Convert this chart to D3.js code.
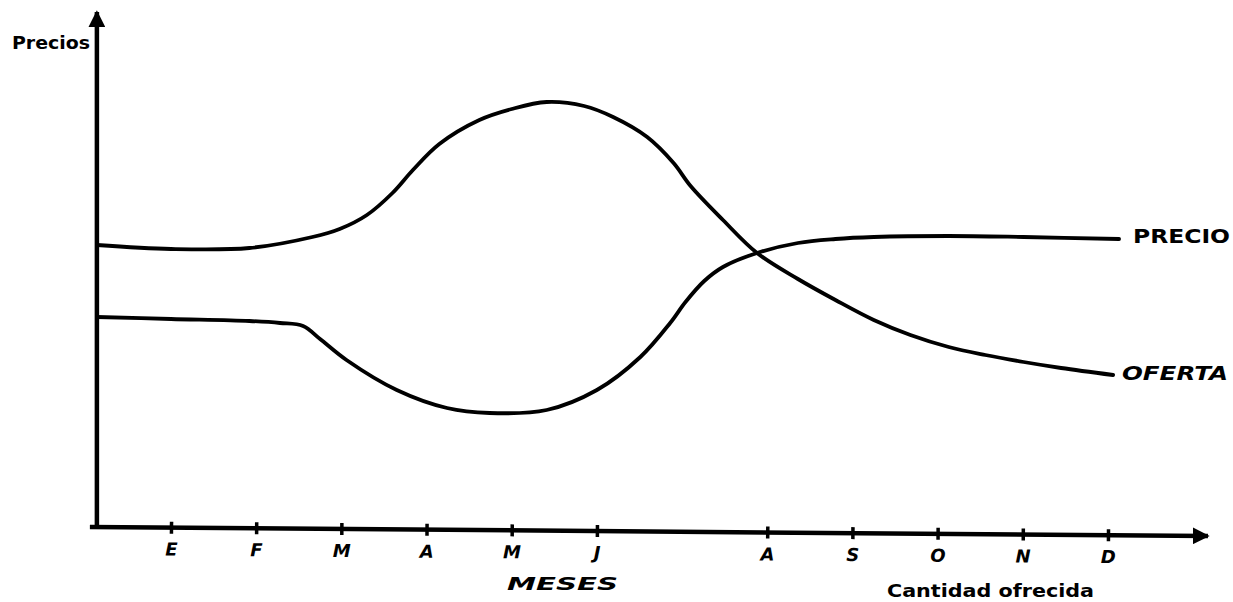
<!DOCTYPE html>
<html>
<head>
<meta charset="utf-8">
<script src="https://cdn.jsdelivr.net/npm/d3@7"></script>
<style>
  html, body { margin: 0; padding: 0; background: #fff; }
  svg { display: block; }
  .lbl { font-family: 'DejaVu Sans', sans-serif; font-weight: bold; fill: #000; }
</style>
</head>
<body>
<svg id="chart" width="1233" height="602"></svg>
<script>
// month ticks (July has no mark in the original)
const monthIdx = [1, 2, 3, 4, 5, 6, 8, 9, 10, 11, 12];
const monthLabels = ['E', 'F', 'M', 'A', 'M', 'J', 'A', 'S', 'O', 'N', 'D'];

// [month position, price level]
const oferta = [
  [0.13, 56.6], [1, 55.8], [1.92, 56], [2.66, 58.2], [2.98, 59.8], [3.3, 62.6],
  [3.6, 67], [3.84, 71.6], [4.15, 76.8], [4.62, 81.6], [5.0, 83.8], [5.41, 85.2],
  [5.85, 84.4], [6.19, 82.2], [6.59, 78.2], [6.9, 73], [7.1, 68.4], [7.48, 61.6],
  [7.88, 55], [8.36, 49.8], [8.8, 45.6], [9.25, 41.6], [9.68, 38.6], [10.13, 36.2],
  [10.56, 34.6], [11.01, 33.2], [11.45, 32], [12.06, 30.6]
];
const precio = [
  [0.13, 42.2], [1, 41.8], [1.92, 41.4], [2.28, 41], [2.55, 40.4], [2.75, 37.8],
  [3.06, 33.6], [3.65, 27.6], [4.24, 24], [4.74, 23], [5.41, 23.6], [6, 27.6],
  [6.51, 34.2], [6.86, 41], [7.04, 45.2], [7.26, 49.4], [7.48, 52.2], [7.88, 55],
  [8.36, 57], [8.8, 57.8], [9.25, 58.2], [10.13, 58.4], [11.01, 58.2], [12.13, 57.8]
];

const svg = d3.select('#chart');

const x = d3.scaleLinear().domain([1, 12]).range([171, 1108]);
const y = d3.scaleLinear().domain([0, 100]).range([528, 28]);

// arrow heads for both axes
const defs = svg.append('defs');
defs
  .append('marker')
  .attr('id', 'arrow')
  .attr('viewBox', [0, 0, 10, 10])
  .attr('refX', 9)
  .attr('refY', 5)
  .attr('markerUnits', 'userSpaceOnUse')
  .attr('markerWidth', 17)
  .attr('markerHeight', 17)
  .attr('orient', 'auto')
  .append('path')
  .attr('d', 'M 0 0 L 10 5 L 0 10 z')
  .attr('fill', '#000');

const x0 = x(oferta[0][0]);

// vertical axis
svg
  .append('line')
  .attr('x1', x0)
  .attr('y1', y(0))
  .attr('x2', x0)
  .attr('y2', 12)
  .attr('stroke', '#000')
  .attr('stroke-width', 4.5)
  .attr('marker-end', 'url(#arrow)');

// horizontal axis, slightly tilted like the hand drawing
const axisG = svg
  .append('g')
  .attr('transform', `translate(0,${y(0) - 1}) rotate(0.46, ${x0 - 6}, 0)`);

axisG
  .append('line')
  .attr('x1', x0 - 7)
  .attr('y1', 0)
  .attr('x2', 1208)
  .attr('y2', 0)
  .attr('stroke', '#000')
  .attr('stroke-width', 4.5)
  .attr('marker-end', 'url(#arrow)');

const xAxis = d3
  .axisBottom(x)
  .tickValues(monthIdx)
  .tickSize(0)
  .tickFormat((d, i) => monthLabels[i]);

axisG
  .append('g')
  .call(xAxis)
  .call((g) => g.select('.domain').remove());

axisG
  .selectAll('.tick line')
  .attr('y1', -6)
  .attr('y2', 6)
  .attr('stroke', '#000')
  .attr('stroke-width', 3.5);

axisG
  .selectAll('.tick text')
  .attr('class', 'lbl')
  .attr('y', 0)
  .attr('dy', 28)
  .attr('font-size', 18)
  .style('font-size', '18px')
  .style('font-style', 'oblique')
  .attr('fill', '#000');

// the two curves
const line = d3
  .line()
  .x((d) => x(d[0]))
  .y((d) => y(d[1]))
  .curve(d3.curveCatmullRom.alpha(0.5));

[oferta, precio].forEach((s) => {
  svg
    .append('path')
    .datum(s)
    .attr('d', line)
    .attr('fill', 'none')
    .attr('stroke', '#000')
    .attr('stroke-width', 3.8)
    .attr('stroke-linecap', 'round')
    .attr('stroke-linejoin', 'round');
});

// texts
const addText = (txt, tx, ty, size, len, italic) => {
  svg
    .append('text')
    .attr('class', 'lbl')
    .attr('x', tx)
    .attr('y', ty)
    .attr('textLength', len)
    .attr('lengthAdjust', 'spacingAndGlyphs')
    .style('font-size', size + 'px')
    .style('font-style', italic ? 'oblique' : 'normal')
    .text(txt);
};

addText('Precios', 12, 49, 18, 78, false);
addText('PRECIO', 1133, 243, 19, 97, false);
addText('OFERTA', 1122, 380, 19, 106, true);
addText('MESES', 507, 590, 18, 111, true);
addText('Cantidad ofrecida', 887, 597, 18, 207, false);
</script>
</body>
</html>
